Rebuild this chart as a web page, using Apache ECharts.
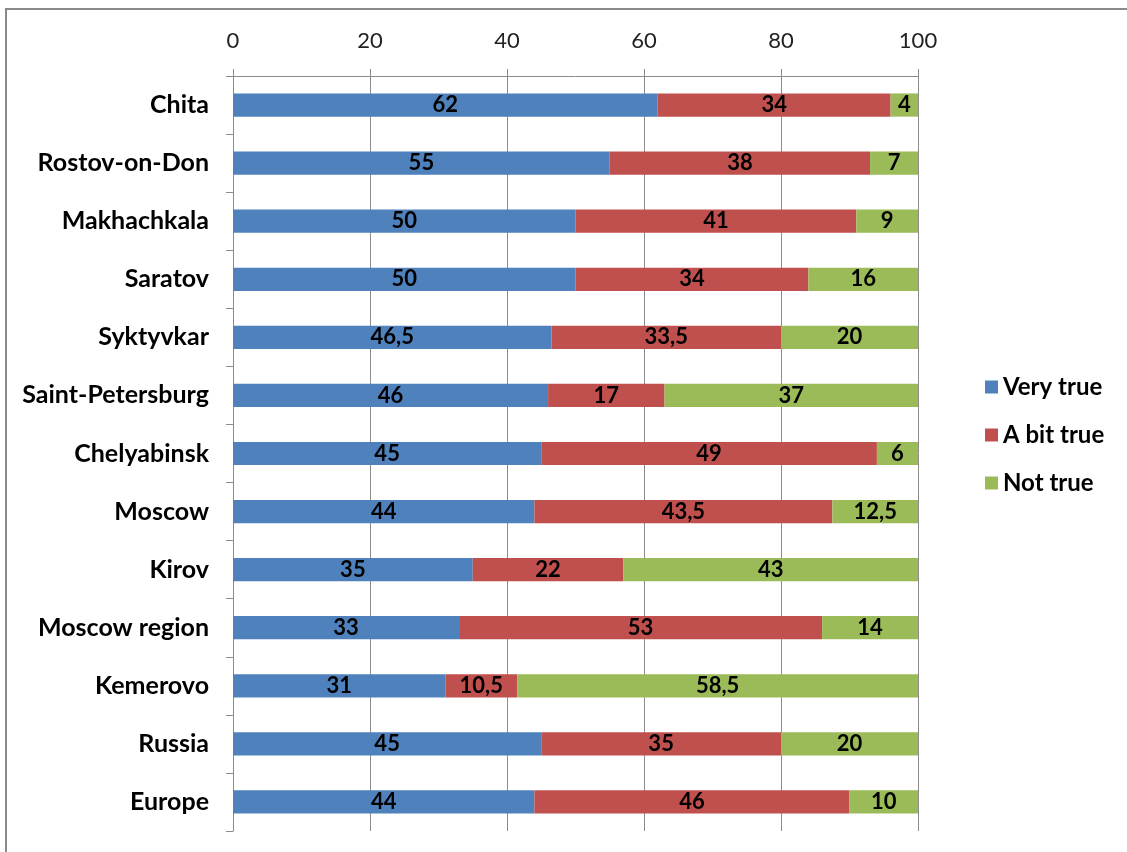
<!DOCTYPE html>
<html>
<head>
<meta charset="utf-8">
<script src="https://cdn.jsdelivr.net/npm/echarts@6/dist/echarts.min.js"></script>
<style>
  html, body { margin: 0; padding: 0; background: #fff; }
  #frame {
    position: absolute; left: 5px; top: 8px; width: 1200px; height: 900px;
    border: 2px solid #8a8a8a; box-sizing: border-box;
  }
  #chart { position: absolute; left: 0; top: 0; width: 1127px; height: 852px; }
</style>
</head>
<body>
<div id="frame"></div>
<div id="chart"></div>
<script>
const cities = ['Chita', 'Rostov-on-Don', 'Makhachkala', 'Saratov', 'Syktyvkar',
  'Saint-Petersburg', 'Chelyabinsk', 'Moscow', 'Kirov', 'Moscow region',
  'Kemerovo', 'Russia', 'Europe']
const veryTrue = [62, 55, 50, 50, 46.5, 46, 45, 44, 35, 33, 31, 45, 44]
const bitTrue = [34, 38, 41, 34, 33.5, 17, 49, 43.5, 22, 53, 10.5, 35, 46]
const notTrue = [4, 7, 9, 16, 20, 37, 6, 12.5, 43, 14, 58.5, 20, 10]
const xTicks = [0, 20, 40, 60, 80, 100]

const font = 'Lato, "Open Sans", sans-serif'

function makeSeries(name, data, color) {
  return {
    name,
    type: 'bar',
    stack: 'total',
    data,
    barWidth: '40%',
    itemStyle: { color },
    label: {
      show: true,
      position: 'inside',
      color: '#000',
      fontFamily: font,
      fontWeight: 'bold',
      fontSize: 22,
      formatter: (p) => String(p.value).replace('.', ','),
    },
  }
}

const chart = echarts.init(document.getElementById('chart'))
chart.setOption({
  animation: false,
  grid: { left: 233, right: 209, top: 76, bottom: 21, containLabel: false },
  legend: {
    orient: 'vertical',
    left: 980,
    top: 370,
    itemGap: 24,
    itemWidth: 13,
    itemHeight: 13,
    icon: 'rect',
    textStyle: { fontFamily: font, fontSize: 24, fontWeight: 'bold', color: '#000' },
    data: ['Very true', 'A bit true', 'Not true'],
  },
  xAxis: {
    type: 'value',
    position: 'top',
    min: xTicks[0],
    max: xTicks[xTicks.length - 1],
    interval: 20,
    axisLine: { show: true, lineStyle: { color: '#8c8c8c', width: 1 } },
    axisTick: { show: true, length: 7, lineStyle: { color: '#8c8c8c' } },
    splitLine: { show: true, lineStyle: { color: '#8c8c8c', width: 1 } },
    axisLabel: { fontFamily: font, fontSize: 22, color: '#222', margin: 24 },
  },
  yAxis: {
    type: 'category',
    inverse: true,
    data: cities,
    axisLine: { show: true, lineStyle: { color: '#8c8c8c', width: 1 } },
    axisTick: { show: true, length: 7, lineStyle: { color: '#8c8c8c' } },
    axisLabel: { fontFamily: font, fontSize: 25, fontWeight: 'bold', color: '#000', margin: 24 },
  },
  series: [
    makeSeries('Very true', veryTrue, '#4f81bd'),
    makeSeries('A bit true', bitTrue, '#c0504d'),
    makeSeries('Not true', notTrue, '#9bbb59'),
  ],
})
</script>
</body>
</html>
